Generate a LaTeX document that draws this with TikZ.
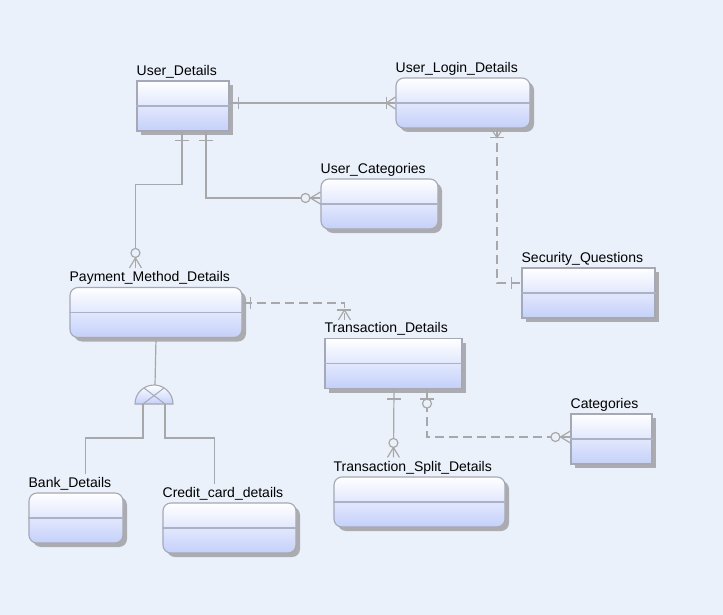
\documentclass[tikz,border=0pt]{standalone}
\usepackage{fontspec}
\setmainfont{Liberation Sans}
\usetikzlibrary{calc,positioning,shadows}

\definecolor{bgblue}{RGB}{234,241,250}
\definecolor{entline}{RGB}{165,168,182}
\definecolor{entbot}{RGB}{196,208,250}
\definecolor{divline}{RGB}{172,178,198}
\definecolor{shadowgrey}{RGB}{172,172,176}
\definecolor{linkgrey}{RGB}{168,168,170}

\begin{document}
\begin{tikzpicture}[x=1pt,y=-1pt,
    entity/.style={rectangle,draw=entline,line width=1.1pt,inner sep=0pt,
      minimum height=50pt,shading=axis,top color=white,bottom color=entbot,
      drop shadow={shadow xshift=4pt,shadow yshift=-4pt,fill=shadowgrey,opacity=1}},
    soft/.style={rounded corners=8pt},
    title/.style={anchor=base west,inner sep=0pt,yshift=5pt,
      font=\fontsize{14}{16}\selectfont},
    link/.style={draw=linkgrey,line width=1.2pt},
    gap/.style={dash pattern=on 9pt off 5pt}]

  \useasboundingbox (0,0) rectangle (723,615);
  \fill[bgblue] (0,0) rectangle (723,615);

  % entities
  \node[entity,minimum width=92pt] (ud) at (183,106) {};
  \node[entity,soft,minimum width=134pt] (uld) at (463,103) {};
  \node[entity,soft,minimum width=117pt] (uc) at (379.5,204) {};
  \node[entity,minimum width=133pt] (sq) at (588.5,293) {};
  \node[entity,soft,minimum width=172pt] (pmd) at (156,312.5) {};
  \node[entity,minimum width=137pt] (td) at (393.5,363.5) {};
  \node[entity,minimum width=81pt] (cat) at (611.5,439) {};
  \node[entity,soft,minimum width=171pt] (tsd) at (419.5,502) {};
  \node[entity,soft,minimum width=94pt] (bd) at (76,518) {};
  \node[entity,soft,minimum width=133pt] (ccd) at (229.5,528) {};

  \foreach \e in {ud,uld,uc,sq,pmd,td,cat,tsd,bd,ccd}
    \draw[divline,line width=1.1pt] (\e.west) -- (\e.east);

  \node[title] at (ud.north west) {User\_Details};
  \node[title] at (uld.north west) {User\_Login\_Details};
  \node[title] at (uc.north west) {User\_Categories};
  \node[title] at (sq.north west) {Security\_Questions};
  \node[title] at (pmd.north west) {Payment\_Method\_Details};
  \node[title] at (td.north west) {Transaction\_Details};
  \node[title] at (cat.north west) {Categories};
  \node[title] at (tsd.north west) {Transaction\_Split\_Details};
  \node[title] at (bd.north west) {Bank\_Details};
  \node[title] at (ccd.north west) {Credit\_card\_details};

  % connector ends
  \coordinate (ud-r) at (ud.east |- uld.west);
  \coordinate (uld-l) at (uld.west);
  \coordinate (ud-b1) at ($(ud.south)+(-1,0)$);
  \coordinate (ud-b2) at ($(ud.south)+(23,0)$);
  \coordinate (pmd-in) at ($(pmd.north west)+(66,-19)$);
  \coordinate (uc-in) at ($(uc.west)+(0,-6)$);
  \coordinate (uld-b) at ($(uld.south)+(34,0)$);
  \coordinate (sq-in) at ($(sq.west)+(0,-10)$);
  \coordinate (pmd-out) at ($(pmd.east)+(0,-9.5)$);
  \coordinate (td-in) at ($(td.north west)+(20,-18)$);
  \coordinate (td-b1) at ($(td.south)+(0.5,0)$);
  \coordinate (td-b2) at ($(td.south)+(33.5,0)$);
  \coordinate (tsd-in) at ($(tsd.north west)+(60,-19)$);
  \coordinate (cat-in) at ($(cat.west)+(0,-2)$);

  % relationships
  \draw[link] (ud-r) -- (uld-l);
  \draw[link] (ud-b1) -- ++(0,53) -| (pmd-in);
  \draw[link] (ud-b2) |- (uc-in);
  \draw[link,gap] (uld-b) |- (sq-in);
  \draw[link,gap] (pmd-out) -| (td-in);
  \draw[link] (td-b1) -- (tsd-in);
  \draw[link,gap] (td-b2) |- (cat-in);

  % cardinality marks
  \begin{scope}[link]
    \draw ($(ud-r)+(9,-6)$) -- +(0,12);
    \draw ($(uld-l)+(-9,-6)$) -- +(0,12);
    \draw ($(uld-l)+(0,-6)$) -- ($(uld-l)+(-9,0)$) -- ($(uld-l)+(0,6)$);
    \draw ($(ud-b1)+(-7,9)$) -- +(14,0);
    \draw ($(ud-b2)+(-7,9)$) -- +(14,0);
    \draw ($(pmd-in)+(-6,0)$) -- ($(pmd-in)+(0,-10)$) -- ($(pmd-in)+(6,0)$);
    \draw[fill=bgblue] ($(pmd-in)+(0,-15)$) circle (4.5pt);
    \draw ($(uc-in)+(0,-6)$) -- ($(uc-in)+(-10,0)$) -- ($(uc-in)+(0,6)$);
    \draw[fill=bgblue] ($(uc-in)+(-15,0)$) circle (4.5pt);
    \draw ($(uld-b)+(-6,0)$) -- ($(uld-b)+(0,9)$) -- ($(uld-b)+(6,0)$);
    \draw ($(uld-b)+(-7,9)$) -- +(14,0);
    \draw ($(sq-in)+(-10,-6)$) -- +(0,12);
    \draw ($(pmd-out)+(8,-6)$) -- +(0,12);
    \draw ($(td-in)+(-7,-10)$) -- +(14,0);
    \draw ($(td-in)+(-6,0)$) -- ($(td-in)+(0,-10)$) -- ($(td-in)+(6,0)$);
    \draw ($(td-b1)+(-7,10)$) -- +(14,0);
    \draw ($(tsd-in)+(-6,0)$) -- ($(tsd-in)+(0,-10)$) -- ($(tsd-in)+(6,0)$);
    \draw[fill=bgblue] ($(tsd-in)+(0,-14.5)$) circle (4.5pt);
    \draw ($(td-b2)+(-7,10)$) -- +(14,0);
    \draw[fill=bgblue] ($(td-b2)+(0,14.5)$) circle (4.5pt);
    \draw ($(cat-in)+(0,-6)$) -- ($(cat-in)+(-10,0)$) -- ($(cat-in)+(0,6)$);
    \draw[fill=bgblue] ($(cat-in)+(-15,0)$) circle (4.5pt);
  \end{scope}

  % subtype symbol
  \coordinate (sub) at (154,404);
  \coordinate (sub-l) at ($(sub)+(-11,0)$);
  \coordinate (sub-r) at ($(sub)+(11,0)$);
  \coordinate (bd-in) at ($(bd.north west)+(57,-18)$);
  \coordinate (ccd-in) at ($(ccd.north west)+(52,-18)$);
  \draw[link] (pmd.south) -- ($(sub)+(1,-19)$);
  \draw[draw=entline,line width=1.1pt,top color=white,bottom color=entbot]
    ($(sub)+(-19,0)$) arc (180:0:19pt) -- cycle;
  \draw[entline,line width=1pt] (sub-l) -- ($(sub)+(10,-16)$)
    (sub-r) -- ($(sub)+(-10,-16)$);
  \draw[link] (sub-l) -- ++(0,34) -| (bd-in);
  \draw[link] (sub-r) -- ++(0,34) -| (ccd-in);
\end{tikzpicture}
\end{document}
